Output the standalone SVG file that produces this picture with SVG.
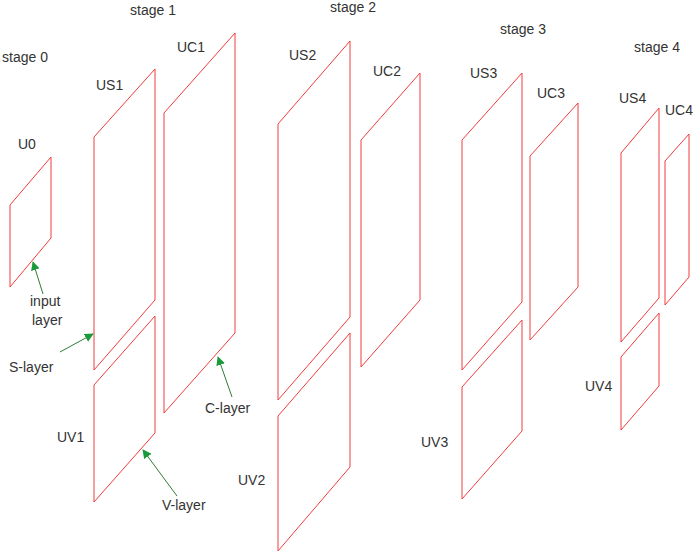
<svg xmlns="http://www.w3.org/2000/svg" width="698" height="552" viewBox="0 0 698 552">
<style>
.p{fill:none;stroke:#f03c3c;stroke-width:1}
text{font-family:"Liberation Sans",Arial,sans-serif;font-size:14px;fill:#333}
.a{stroke:#2e7d32;stroke-width:1;fill:none;marker-end:url(#ah)}
</style>
<defs><marker id="ah" viewBox="0 0 10 10" refX="9" refY="5" markerWidth="9" markerHeight="9" markerUnits="userSpaceOnUse" orient="auto"><path d="M0,0L10,5L0,10z" fill="#1a9a3a"/></marker></defs>
<rect width="698" height="552" fill="#fff"/>
<text x="2" y="62">stage 0</text><text x="130" y="15">stage 1</text><text x="330" y="12">stage 2</text><text x="500" y="34">stage 3</text><text x="634" y="52">stage 4</text>
<g id="U0"><polygon class="p" points="10,205 51,157 51,238 10,287"/><text x="18" y="149">U0</text></g>
<g id="US1"><polygon class="p" points="94,137 155,69 155,300 94,370"/><text x="96" y="90">US1</text></g>
<g id="UV1"><polygon class="p" points="94,385 155,316 155,433 94,502"/><text x="57" y="442">UV1</text></g>
<g id="UC1"><polygon class="p" points="164,113 235,33 235,333 164,413"/><text x="177" y="52">UC1</text></g>
<g id="US2"><polygon class="p" points="278,124 350,41 350,317 278,400"/><text x="289" y="60">US2</text></g>
<g id="UV2"><polygon class="p" points="278,416 350,333 350,467 278,551"/><text x="238" y="485">UV2</text></g>
<g id="UC2"><polygon class="p" points="361,140 420,73 420,300 361,367"/><text x="373" y="76">UC2</text></g>
<g id="US3"><polygon class="p" points="462,140 522,73 522,302 462,370"/><text x="470" y="78">US3</text></g>
<g id="UV3"><polygon class="p" points="462,387 522,320 522,431 462,499"/><text x="421" y="447">UV3</text></g>
<g id="UC3"><polygon class="p" points="530,156 578,103 578,287 530,340"/><text x="537" y="98">UC3</text></g>
<g id="US4"><polygon class="p" points="621,153 659,108 659,298 621,342"/><text x="619" y="103">US4</text></g>
<g id="UV4"><polygon class="p" points="621,357 659,313 659,386 621,430"/><text x="585" y="391">UV4</text></g>
<g id="UC4"><polygon class="p" points="665,161 689,134 689,277 665,305"/><text x="665" y="115">UC4</text></g>
<g id="labels"><text x="30" y="306">input</text><text x="32" y="325">layer</text><text x="9" y="372">S-layer</text><text x="205" y="413">C-layer</text><text x="162" y="510">V-layer</text></g>
<g id="connectors">
<line class="a" x1="43" y1="294" x2="33" y2="262"/>
<line class="a" x1="60" y1="352" x2="93" y2="334"/>
<line class="a" x1="232" y1="397" x2="218" y2="357"/>
<line class="a" x1="177" y1="496" x2="143" y2="450"/>
</g>
</svg>
